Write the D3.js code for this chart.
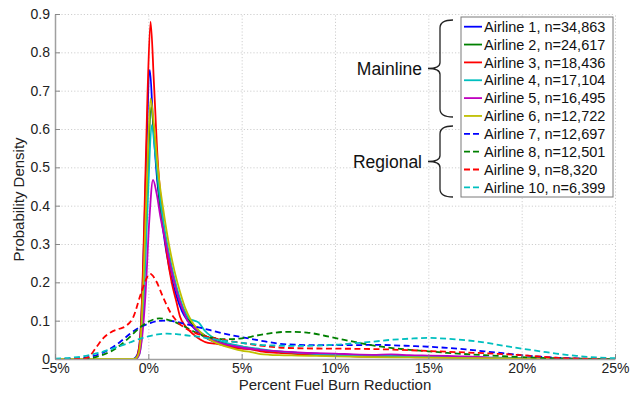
<!DOCTYPE html>
<html lang="en">
<head>
<meta charset="utf-8">
<script src="https://d3js.org/d3.v7.min.js"></script>
<style>
  body { margin: 0; background: #fff; }
  svg { font-family: "Liberation Sans", Arial, sans-serif; }
  .axis .domain { stroke: #a0a0a0; stroke-width: 1.5; }
  .axis .tick line { stroke: #888; }
  .axis text { fill: #222; font-size: 14px; }
  .grid line { stroke: #cfcfcf; stroke-dasharray: 1.2,2; }
  .grid .domain { display: none; }
</style>
</head>
<body>
<svg id="chart" width="640" height="394"></svg>
<script>
// ---- data: [percent reduction, density] ----
const airline1 = [[-5,0],[-0.8,0],[-0.6,0.01],[-0.45,0.05],[-0.3,0.2],[-0.15,0.45],[0.08,0.754],[0.25,0.62],[0.45,0.48],[0.65,0.39],[0.9,0.3],[1.2,0.22],[1.5,0.165],[1.8,0.125],[2.1,0.1],[2.5,0.078],[3,0.058],[3.5,0.045],[4,0.038],[4.5,0.033],[5,0.029],[6,0.023],[7,0.019],[8,0.016],[9,0.014],[10,0.012],[12,0.01],[14,0.008],[16,0.006],[18,0.004],[20,0.002],[22,0.001],[25,0]];
const airline2 = [[-5,0],[-0.75,0],[-0.55,0.01],[-0.4,0.06],[-0.25,0.2],[-0.05,0.45],[0.15,0.657],[0.35,0.56],[0.55,0.44],[0.75,0.36],[1,0.29],[1.3,0.22],[1.6,0.165],[1.9,0.125],[2.2,0.1],[2.6,0.077],[3,0.062],[3.5,0.05],[4,0.042],[5,0.032],[6,0.024],[7,0.018],[8,0.014],[9,0.012],[10,0.01],[12,0.008],[14,0.006],[16,0.005],[18,0.003],[20,0.002],[22,0.001],[25,0]];
const airline3 = [[-5,0],[-0.7,0],[-0.55,0.015],[-0.4,0.08],[-0.25,0.3],[-0.05,0.68],[0.12,0.88],[0.3,0.72],[0.5,0.52],[0.7,0.4],[0.95,0.29],[1.25,0.2],[1.5,0.15],[1.7,0.11],[2,0.085],[2.4,0.065],[2.8,0.05],[3.2,0.042],[3.6,0.04],[4,0.036],[4.5,0.03],[5,0.027],[5.5,0.025],[6,0.02],[7,0.016],[8,0.013],[9,0.01],[10,0.009],[11,0.007],[12,0.006],[13,0.007],[14,0.005],[15,0.004],[17,0.003],[19,0.002],[21,0.001],[25,0]];
const airline4 = [[-5,0],[-0.7,0],[-0.5,0.01],[-0.35,0.06],[-0.2,0.2],[0,0.45],[0.18,0.61],[0.38,0.53],[0.6,0.43],[0.8,0.36],[1.05,0.29],[1.35,0.22],[1.65,0.165],[1.95,0.125],[2.2,0.105],[2.45,0.1],[2.7,0.095],[3,0.075],[3.4,0.058],[4,0.045],[4.5,0.038],[5,0.033],[6,0.026],[7,0.02],[8,0.016],[9,0.013],[10,0.011],[12,0.009],[14,0.007],[16,0.005],[18,0.003],[20,0.002],[22,0.001],[25,0]];
const airline5 = [[-5,0],[-0.7,0],[-0.5,0.01],[-0.35,0.05],[-0.15,0.17],[0.05,0.36],[0.25,0.467],[0.45,0.43],[0.65,0.37],[0.9,0.31],[1.2,0.24],[1.5,0.18],[1.8,0.135],[2.1,0.1],[2.5,0.08],[3,0.06],[3.5,0.048],[4,0.04],[5,0.03],[6,0.024],[7,0.02],[8,0.017],[9,0.015],[10,0.014],[11,0.012],[12,0.011],[13,0.012],[14,0.01],[15,0.009],[16,0.008],[17,0.007],[18,0.004],[18.5,0.001],[19,0],[25,0]];
const airline6 = [[-5,0],[-0.75,0],[-0.55,0.01],[-0.4,0.06],[-0.25,0.22],[-0.05,0.5],[0.12,0.68],[0.32,0.6],[0.55,0.48],[0.8,0.39],[1.1,0.3],[1.4,0.23],[1.7,0.175],[2,0.13],[2.3,0.1],[2.7,0.075],[3,0.06],[3.5,0.045],[4,0.035],[4.5,0.028],[5,0.022],[5.5,0.018],[6,0.013],[6.5,0.011],[7,0.01],[8,0.009],[9,0.008],[10,0.007],[12,0.005],[14,0.004],[16,0.003],[18,0.002],[20,0.001],[25,0]];
const airline7 = [[-5,0],[-4,0.001],[-3.5,0.003],[-3,0.007],[-2.5,0.015],[-2,0.028],[-1.5,0.045],[-1,0.065],[-0.5,0.082],[0,0.092],[0.5,0.099],[1,0.1],[1.5,0.097],[2,0.091],[2.5,0.085],[3,0.079],[4,0.067],[5,0.057],[6,0.048],[7,0.04],[8,0.037],[9,0.036],[10,0.036],[11,0.036],[12,0.037],[13,0.036],[14,0.034],[15,0.032],[16,0.029],[17,0.025],[18,0.02],[19,0.015],[20,0.01],[21,0.006],[22,0.003],[23,0.001],[25,0]];
const airline8 = [[-5,0],[-3.5,0.001],[-3,0.003],[-2.5,0.01],[-2,0.02],[-1.5,0.036],[-1,0.057],[-0.5,0.08],[0,0.097],[0.6,0.106],[1,0.103],[1.5,0.095],[2,0.083],[2.5,0.07],[3,0.06],[3.5,0.055],[4,0.052],[4.5,0.052],[5,0.054],[5.5,0.058],[6,0.063],[6.5,0.067],[7.5,0.071],[8.5,0.069],[9.5,0.06],[10.5,0.05],[11.5,0.04],[12.5,0.032],[14,0.024],[15,0.02],[16,0.016],[18,0.01],[20,0.005],[21,0.003],[22,0.001],[24,0],[25,0]];
const airline9 = [[-5,0],[-3.6,0],[-3.2,0.005],[-2.8,0.03],[-2.4,0.055],[-2,0.07],[-1.6,0.078],[-1.2,0.086],[-0.8,0.11],[-0.4,0.17],[0,0.218],[0.1,0.222],[0.4,0.205],[0.8,0.16],[1.2,0.12],[1.6,0.095],[2,0.08],[2.5,0.068],[3,0.06],[4,0.05],[5,0.042],[6,0.035],[7,0.03],[8,0.028],[10,0.027],[12,0.026],[14,0.023],[15,0.021],[17,0.017],[18.5,0.014],[20,0.01],[21,0.006],[22,0.003],[23,0.001],[25,0]];
const airline10 = [[-5,0.001],[-4.5,0.002],[-4,0.004],[-3.5,0.007],[-3,0.012],[-2.5,0.018],[-2,0.026],[-1.5,0.034],[-1,0.043],[-0.5,0.052],[0,0.059],[0.5,0.064],[1,0.066],[1.5,0.065],[2,0.062],[3,0.056],[4,0.048],[5,0.042],[6,0.037],[7,0.035],[8,0.034],[9,0.035],[10,0.037],[11,0.041],[12,0.045],[13,0.05],[14,0.053],[15,0.055],[16,0.053],[17,0.049],[18,0.043],[19,0.035],[20,0.027],[21,0.02],[22,0.013],[23,0.008],[24,0.004],[25,0.002]];

const seriesValues = [airline1, airline2, airline3, airline4, airline5, airline6, airline7, airline8, airline9, airline10];
const seriesNames = ["Airline 1, n=34,863", "Airline 2, n=24,617", "Airline 3, n=18,436", "Airline 4, n=17,104", "Airline 5, n=16,495",
                     "Airline 6, n=12,722", "Airline 7, n=12,697", "Airline 8, n=12,501", "Airline 9, n=8,320", "Airline 10, n=6,399"];
const seriesColors = ["#0000ff", "#008000", "#ff0000", "#00bfbf", "#bf00bf", "#bfbf00", "#0000ff", "#008000", "#ff0000", "#00bfbf"];
const seriesDashed = [false, false, false, false, false, false, true, true, true, true];
const groups = ["Mainline", "Regional"];

const xTicks = [-5, 0, 5, 10, 15, 20, 25];
const xTickLabels = ["\u22125%", "0%", "5%", "10%", "15%", "20%", "25%"];
const yTicks = [0, 0.1, 0.2, 0.3, 0.4, 0.5, 0.6, 0.7, 0.8, 0.9];
const yTickLabels = ["0", "0.1", "0.2", "0.3", "0.4", "0.5", "0.6", "0.7", "0.8", "0.9"];

// ---- layout ----
const margin = {top: 14, right: 25, bottom: 35, left: 55};
const width = 640 - margin.left - margin.right;
const height = 394 - margin.top - margin.bottom;

const svg = d3.select("#chart");
const g = svg.append("g").attr("transform", `translate(${margin.left},${margin.top})`);

const x = d3.scaleLinear().domain([-5, 25]).range([0, width]);
const y = d3.scaleLinear().domain([0, 0.9]).range([height, 0]);

// dotted grid
g.append("g").attr("class", "grid")
  .call(d3.axisLeft(y).tickValues(yTicks).tickSize(-width).tickFormat(""));
g.append("g").attr("class", "grid")
  .attr("transform", `translate(0,${height})`)
  .call(d3.axisBottom(x).tickValues(xTicks).tickSize(-height).tickFormat(""));

// curves
svg.append("clipPath").attr("id", "plot-clip")
  .append("rect").attr("x", 0).attr("y", -2).attr("width", width).attr("height", height + 2);

const line = d3.line()
  .x(d => x(d[0]))
  .y(d => y(d[1]))
  .curve(d3.curveMonotoneX);

g.append("g").attr("clip-path", "url(#plot-clip)")
  .selectAll("path")
  .data(seriesValues)
  .join("path")
  .attr("d", line)
  .attr("fill", "none")
  .attr("stroke", (d, i) => seriesColors[i])
  .attr("stroke-width", 1.8)
  .attr("stroke-linejoin", "round")
  .attr("stroke-dasharray", (d, i) => seriesDashed[i] ? "6,3.5" : null);

// axes
g.append("g").attr("class", "axis")
  .call(d3.axisLeft(y).tickValues(yTicks).tickSize(-5).tickSizeOuter(0).tickPadding(5)
    .tickFormat((d, i) => yTickLabels[i]));
g.append("g").attr("class", "axis")
  .attr("transform", `translate(0,${height})`)
  .call(d3.axisBottom(x).tickValues(xTicks).tickSize(-5).tickSizeOuter(0).tickPadding(4)
    .tickFormat((d, i) => xTickLabels[i]));

// axis titles
svg.append("text")
  .attr("x", margin.left + width / 2).attr("y", 390)
  .attr("text-anchor", "middle")
  .attr("font-size", 15).attr("fill", "#222")
  .text("Percent Fuel Burn Reduction");
svg.append("text")
  .attr("transform", `translate(24,${margin.top + height / 2 + 13}) rotate(-90)`)
  .attr("text-anchor", "middle")
  .attr("font-size", 15).attr("fill", "#222")
  .text("Probability Density");

// legend
const legX = 461, legY = 17, legW = 152, legH = 180;
const rowY0 = 26.7, rowStep = 17.85;
const legend = svg.append("g");
legend.append("rect")
  .attr("x", legX).attr("y", legY).attr("width", legW).attr("height", legH)
  .attr("fill", "#fff").attr("stroke", "#7a7a7a").attr("stroke-width", 1);

const rows = legend.selectAll("g.row")
  .data(seriesNames)
  .join("g")
  .attr("class", "row")
  .attr("transform", (d, i) => `translate(0,${rowY0 + i * rowStep})`);
rows.append("line")
  .attr("x1", legX + 3).attr("x2", legX + 21)
  .attr("stroke", (d, i) => seriesColors[i])
  .attr("stroke-width", 1.8)
  .attr("stroke-dasharray", (d, i) => seriesDashed[i] ? "6,3" : null);
rows.append("text")
  .attr("x", legX + 23).attr("dy", "0.36em")
  .attr("font-size", 14.5).attr("fill", "#111")
  .text(d => d);

// braces for the two groups
function brace(bx, y0, y1, label) {
  const ym = (y0 + y1) / 2;
  const p = d3.path();
  p.moveTo(bx + 13, y0);
  p.quadraticCurveTo(bx, y0, bx, y0 + 8);
  p.lineTo(bx, ym - 6);
  p.quadraticCurveTo(bx, ym, bx - 12, ym);
  p.quadraticCurveTo(bx, ym, bx, ym + 6);
  p.lineTo(bx, y1 - 8);
  p.quadraticCurveTo(bx, y1, bx + 13, y1);
  svg.append("path").attr("d", p.toString())
    .attr("fill", "none").attr("stroke", "#222").attr("stroke-width", 1.3);
  svg.append("text")
    .attr("x", bx - 18).attr("y", ym).attr("dy", "0.36em")
    .attr("text-anchor", "end")
    .attr("font-size", 17.5).attr("fill", "#111")
    .text(label);
}
brace(440, 20, 117, groups[0]);
brace(440, 126, 197, groups[1]);
</script>
</body>
</html>
